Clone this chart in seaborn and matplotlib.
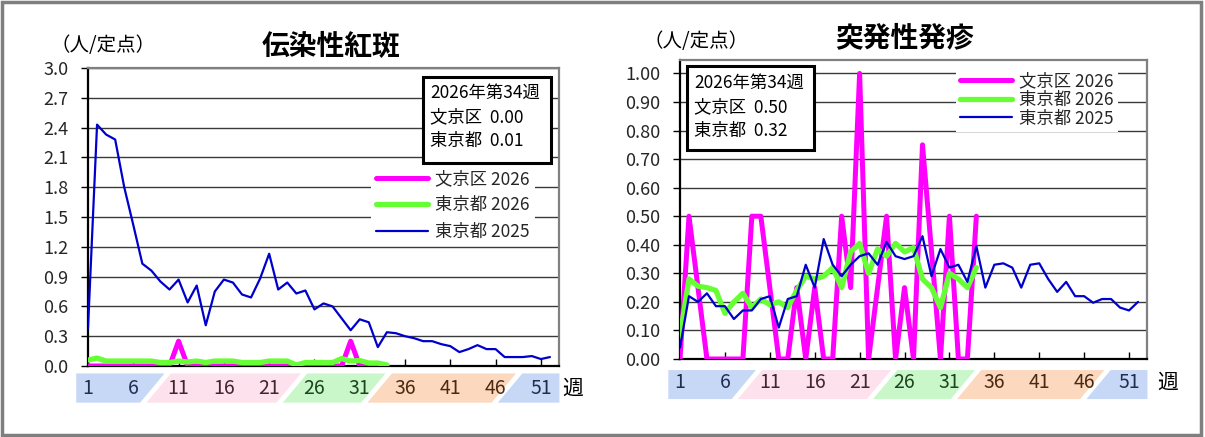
import numpy as np
import pandas as pd
import matplotlib
matplotlib.use("Agg")
import matplotlib.pyplot as plt
from matplotlib.patches import Polygon, Rectangle
from matplotlib.lines import Line2D
import seaborn as sns

# ---------------- data ----------------
weeks_2025 = list(range(1, 53))
weeks_2026 = list(range(1, 35))

# 伝染性紅斑 (left)
fifth_bunkyo_2026 = [0, 0, 0, 0, 0, 0, 0, 0, 0, 0, 0.25, 0, 0, 0, 0, 0, 0, 0, 0, 0,
                     0, 0, 0, 0, 0, 0, 0, 0, 0, 0.25, 0, 0, 0, 0]
fifth_tokyo_2026 = [0.06, 0.08, 0.05, 0.05, 0.05, 0.05, 0.05, 0.05, 0.035, 0.035,
                    0.05, 0.04, 0.05, 0.035, 0.05, 0.05, 0.05, 0.035, 0.035, 0.035,
                    0.05, 0.05, 0.05, 0.01, 0.035, 0.035, 0.035, 0.035, 0.075, 0.05,
                    0.055, 0.03, 0.03, 0.01]
fifth_tokyo_2025 = [0.38, 2.43, 2.33, 2.28, 1.80, 1.42, 1.03, 0.96, 0.85, 0.77,
                    0.87, 0.64, 0.81, 0.41, 0.75, 0.87, 0.84, 0.72, 0.69, 0.88,
                    1.13, 0.77, 0.84, 0.73, 0.76, 0.57, 0.63, 0.60, 0.48, 0.36,
                    0.47, 0.44, 0.19, 0.34, 0.33, 0.30, 0.28, 0.25, 0.25, 0.22,
                    0.20, 0.14, 0.17, 0.21, 0.17, 0.17, 0.09, 0.09, 0.09, 0.10,
                    0.07, 0.09]

# 突発性発疹 (right)
roseola_bunkyo_2026 = [0, 0.5, 0.25, 0, 0, 0, 0, 0, 0.5, 0.5, 0.25, 0, 0, 0.25, 0,
                       0.25, 0, 0, 0.5, 0.25, 1.0, 0, 0.25, 0.5, 0, 0.25, 0, 0.75,
                       0.38, 0, 0.5, 0, 0, 0.5]
roseola_tokyo_2026 = [0.08, 0.28, 0.255, 0.25, 0.24, 0.16, 0.20, 0.23, 0.18, 0.21,
                      0.19, 0.20, 0.18, 0.24, 0.29, 0.28, 0.29, 0.32, 0.25, 0.375,
                      0.405, 0.30, 0.385, 0.36, 0.405, 0.375, 0.39, 0.28, 0.25, 0.18,
                      0.30, 0.28, 0.25, 0.32]
roseola_tokyo_2025 = [0.04, 0.22, 0.20, 0.23, 0.185, 0.185, 0.14, 0.17, 0.17, 0.21,
                      0.22, 0.11, 0.21, 0.22, 0.33, 0.25, 0.42, 0.33, 0.29, 0.33,
                      0.36, 0.37, 0.33, 0.41, 0.36, 0.35, 0.36, 0.43, 0.29, 0.385,
                      0.32, 0.33, 0.27, 0.395, 0.25, 0.33, 0.335, 0.32, 0.25, 0.33,
                      0.335, 0.28, 0.235, 0.27, 0.22, 0.22, 0.197, 0.21, 0.21, 0.18,
                      0.17, 0.20]

series_labels = ["文京区 2026", "東京都 2026", "東京都 2025"]
titles = ["伝染性紅斑", "突発性発疹"]
unit_label = "（人/定点）"
info_header = "2026年第34週"
info_left = ["文京区  0.00", "東京都  0.01"]
info_right = ["文京区  0.50", "東京都  0.32"]
week_tick_labels = [1, 6, 11, 16, 21, 26, 31, 36, 41, 46, 51]
week_unit = "週"

# season bands (week units along the x axis)
band_colors = ["#c7d8f6", "#fde1ec", "#caf7c9", "#fcd8bf", "#c7d8f6"]
band_separators = [7.1, 22.15, 31.5, 45.9]
tick_label_colors = {1: "#1f2e52", 6: "#1f2e52", 11: "#40262e", 16: "#40262e",
                     21: "#40262e", 26: "#1e4420", 31: "#1e4420", 36: "#4a2a12",
                     41: "#4a2a12", 46: "#4a2a12", 51: "#1f2e52"}

# ---------------- style ----------------
sns.set_style("white")
plt.rcParams['font.family'] = ['Noto Sans CJK JP', 'DejaVu Sans']

PINK = "#ff00ff"
GREEN = "#66ff33"
BLUE = "#0000cc"

fig = plt.figure(figsize=(12.05, 4.37), dpi=100)
W, H = 1205, 437


def px_axes(l, t, r, b):
    return fig.add_axes([l / W, 1 - b / H, (r - l) / W, (b - t) / H])


def draw_series(ax, bunkyo, tokyo26, tokyo25):
    d1 = pd.DataFrame({"week": weeks_2026, "v": bunkyo})
    d2 = pd.DataFrame({"week": weeks_2026, "v": tokyo26})
    d3 = pd.DataFrame({"week": weeks_2025, "v": tokyo25})
    sns.lineplot(data=d1, x="week", y="v", ax=ax, color=PINK, linewidth=3.6, zorder=3)
    sns.lineplot(data=d2, x="week", y="v", ax=ax, color=GREEN, linewidth=3.8, zorder=4)
    sns.lineplot(data=d3, x="week", y="v", ax=ax, color=BLUE, linewidth=1.6, zorder=5)


def style_axes(ax, ymax, yticks, fmt):
    ax.set_xlim(1, 53)
    ax.set_ylim(0, ymax)
    ax.set_yticks(yticks)
    ax.set_yticklabels([fmt.format(v) for v in yticks], fontsize=13)
    ax.set_xticks(week_tick_labels)
    ax.set_xticklabels([])
    ax.tick_params(axis='x', direction='in', length=5, width=1, color='black', bottom=True)
    ax.tick_params(axis='y', direction='out', length=5, width=1, color='black', left=True, pad=9)
    ax.set_xlabel("")
    ax.set_ylabel("")
    ax.grid(axis='y', color='#3a3a3a', linewidth=1.0)
    ax.set_axisbelow(True)
    for s in ['left', 'bottom']:
        ax.spines[s].set_color('black')
        ax.spines[s].set_linewidth(1.6)
    for s in ['top', 'right']:
        ax.spines[s].set_color('#808080')
        ax.spines[s].set_linewidth(1.6)


def draw_bands(ax, y_top, y_bot, y_lab):
    tr = ax.get_xaxis_transform()
    slant = 2.7
    gap = 0.35
    seps = [None] + band_separators + [None]
    for i, c in enumerate(band_colors):
        lo, hi = seps[i], seps[i + 1]
        if lo is None:
            lb, lt = -0.3, -0.3
        else:
            lb, lt = lo + gap, lo + gap + slant
        if hi is None:
            rb, rt = 53.05, 53.05
        else:
            rb, rt = hi - gap, hi - gap + slant
        poly = Polygon([(lb, y_bot), (lt, y_top), (rt, y_top), (rb, y_bot)],
                       closed=True, transform=tr, facecolor=c, edgecolor='none',
                       clip_on=False, zorder=1)
        ax.add_patch(poly)
    for wk in week_tick_labels:
        ax.text(wk, y_lab, str(wk), transform=tr, ha='center', va='center',
                fontsize=14, color=tick_label_colors[wk], clip_on=False, zorder=2)


def info_box(ax, x0, y0, x1, y1, tx, rows_y, lines):
    ax.add_patch(Rectangle((x0, y0), x1 - x0, y1 - y0, transform=ax.transAxes,
                           facecolor='white', edgecolor='black', linewidth=2.2,
                           zorder=8, clip_on=False))
    for yy, s in zip(rows_y, lines):
        ax.text(tx, yy, s, transform=ax.transAxes, ha='left', va='center',
                fontsize=12.5, color='black', zorder=9)


handles = [Line2D([], [], color=PINK, lw=3.6),
           Line2D([], [], color=GREEN, lw=3.8),
           Line2D([], [], color=BLUE, lw=1.6)]

# ---------------- left chart ----------------
axL = px_axes(88, 68, 559, 366)
draw_series(axL, fifth_bunkyo_2026, fifth_tokyo_2026, fifth_tokyo_2025)
style_axes(axL, 3.0, np.round(np.arange(0, 3.01, 0.3), 1), "{:.1f}")
draw_bands(axL, -0.025, -0.123, -0.077)
axL.text(1.03, -0.077, week_unit, transform=axL.transAxes, ha='center', va='center',
         fontsize=15, color='black')
info_box(axL, 0.711, 0.681, 0.983, 0.970, 0.726, [0.916, 0.836, 0.755],
         [info_header] + info_left)
legL = axL.legend(handles, series_labels, loc='upper left', bbox_to_anchor=(0.600, 0.675),
                  frameon=True, facecolor='white', edgecolor='none', fancybox=False,
                  framealpha=1.0, fontsize=12.5, handlelength=3.0, handletextpad=0.4,
                  labelspacing=0.48, borderpad=0.3, borderaxespad=0)
legL.set_zorder(7)

fig.text(331 / W, 1 - 47 / H, titles[0], ha='center', va='center', fontsize=20,
         fontweight='bold', color='black')
fig.text(103 / W, 1 - 46 / H, unit_label, ha='center', va='center', fontsize=14,
         color='black')

# ---------------- right chart ----------------
axR = px_axes(680, 60, 1147, 359)
draw_series(axR, roseola_bunkyo_2026, roseola_tokyo_2026, roseola_tokyo_2025)
style_axes(axR, 1.047, np.round(np.arange(0, 1.001, 0.1), 2), "{:.2f}")
draw_bands(axR, -0.037, -0.134, -0.080)
axR.text(1.045, -0.080, week_unit, transform=axR.transAxes, ha='center', va='center',
         fontsize=15, color='black')
info_box(axR, 0.015, 0.699, 0.287, 0.980, 0.030, [0.923, 0.843, 0.763],
         [info_header] + info_right)
legR = axR.legend(handles, series_labels, loc='upper left', bbox_to_anchor=(0.590, 0.975),
                  frameon=True, facecolor='white', edgecolor='none', fancybox=False,
                  framealpha=1.0, fontsize=12.5, handlelength=3.0, handletextpad=0.4,
                  labelspacing=0.05, borderpad=0.25, borderaxespad=0)
legR.set_zorder(7)

fig.text(905 / W, 1 - 38 / H, titles[1], ha='center', va='center', fontsize=20,
         fontweight='bold', color='black')
fig.text(696 / W, 1 - 41 / H, unit_label, ha='center', va='center', fontsize=14,
         color='black')

# outer frame
fig.patches.append(Rectangle((0.002, 0.005), 0.995, 0.990, transform=fig.transFigure,
                             fill=False, edgecolor='#7f7f7f', linewidth=2.5))

fig.savefig("out.png", dpi=100)
